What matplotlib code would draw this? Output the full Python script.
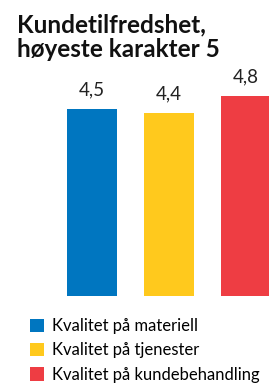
import matplotlib
matplotlib.use("Agg")
import matplotlib.pyplot as plt
from matplotlib.patches import Patch

categories = ["Kvalitet på materiell", "Kvalitet på tjenester", "Kvalitet på kundebehandling"]
values = [4.5, 4.4, 4.8]
labels = ["4,5", "4,4", "4,8"]
colors = ["#0076C0", "#FFC91D", "#EE3D43"]
title = "Kundetilfredshet,\nhøyeste karakter 5"

W, H = 269, 385
fig = plt.figure(figsize=(W / 100, H / 100), dpi=100)
plt.rcParams['font.family'] = ['Lato', 'DejaVu Sans']

bottom_px = 296
top_px = bottom_px - 5 * 41.6
ax = fig.add_axes([0, 1 - bottom_px / H, 1, (bottom_px - top_px) / H])
x = list(range(len(values)))
ax.bar(x, values, width=50 / 77, color=colors)
ax.set_xlim(-92 / 77, (W - 92) / 77)
ax.set_ylim(0, 5)
ax.axis("off")
for xi, v, lab in zip(x, values, labels):
    ax.text(xi, v + 0.33, lab, ha="center", va="baseline", fontsize=13.5, color="#222222")

fig.text(17 / W, 1 - 13 / H, title, ha="left", va="top", fontsize=17.5,
         fontweight="bold", color="#111111", linespacing=1.1)

handles = [Patch(facecolor=c, edgecolor="none") for c in colors]
fig.legend(handles, categories, loc="upper left", bbox_to_anchor=(30 / W, 1 - 318 / H),
           frameon=False, fontsize=12.0, handlelength=0.85, handleheight=0.85,
           handletextpad=0.5, labelspacing=0.5, borderaxespad=0, borderpad=0)

fig.savefig("out.png", dpi=100)
